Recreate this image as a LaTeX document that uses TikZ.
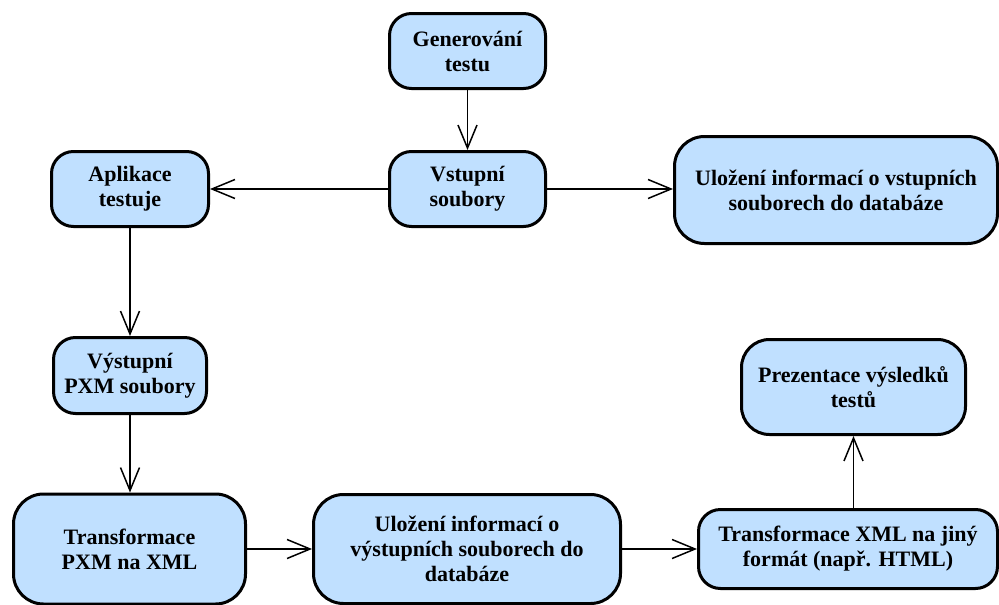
\documentclass[tikz,border=0pt]{standalone}
\usepackage{fontspec}
\setmainfont{Liberation Serif}
\usetikzlibrary{arrows.meta}
\definecolor{boxblue}{RGB}{192,224,255}
\tikzset{
  flowbox/.style={draw=black, line width=3pt, rounded corners=22pt, fill=boxblue,
    align=center, inner sep=0pt, font=\fontsize{22}{25}\selectfont\bfseries},
  flowarrow/.style={line width=1.5pt, -{Straight Barb[length=23pt,width=19pt,line width=1.5pt]}}
}
\begin{document}
\begin{tikzpicture}[x=1pt,y=-1pt]
  \useasboundingbox (0,0) rectangle (999,605);

  % process steps
  \node[flowbox, minimum width=156pt, minimum height=75pt] (gen) at (467.5,51) {Generování\\testu};
  \node[flowbox, minimum width=156pt, minimum height=75pt] (vst) at (467.5,189) {Vstupní\\soubory};
  \node[flowbox, minimum width=157pt, minimum height=75pt] (apl) at (130,189) {Aplikace\\testuje};
  \node[flowbox, minimum width=323pt, minimum height=107pt, rounded corners=30pt] (ulv) at (836,190)
    {Uložení informací o vstupních\\souborech do databáze};
  \node[flowbox, minimum width=153pt, minimum height=76pt] (vys) at (130,375.5) {Výstupní\\PXM soubory};
  \node[flowbox, minimum width=232pt, minimum height=110pt, rounded corners=30pt] (tpx) at (129.5,549)
    {Transformace\\PXM na XML};
  \node[flowbox, minimum width=307pt, minimum height=109pt, rounded corners=30pt] (ulo) at (467,549)
    {Uložení informací o\\výstupních souborech do\\databáze};
  \node[flowbox, minimum width=299pt, minimum height=79pt] (txm) at (848,549)
    {Transformace XML na jiný\\formát (např. HTML)};
  \node[flowbox, minimum width=224pt, minimum height=95pt, rounded corners=28pt] (prz) at (853.5,387)
    {Prezentace výsledků\\testů};

  % connectors
  \draw[flowarrow] (gen) -- (vst);
  \draw[flowarrow] (vst) -- (apl);
  \draw[flowarrow] (vst) -- (vst -| ulv.west);
  \draw[flowarrow] (apl) -- (vys);
  \draw[flowarrow] (vys) -- (vys |- tpx.north);
  \draw[flowarrow] (tpx) -- (ulo);
  \draw[flowarrow] (ulo) -- (txm);
  \draw[flowarrow] (prz |- txm.north) -- (prz.south);
\end{tikzpicture}
\end{document}
